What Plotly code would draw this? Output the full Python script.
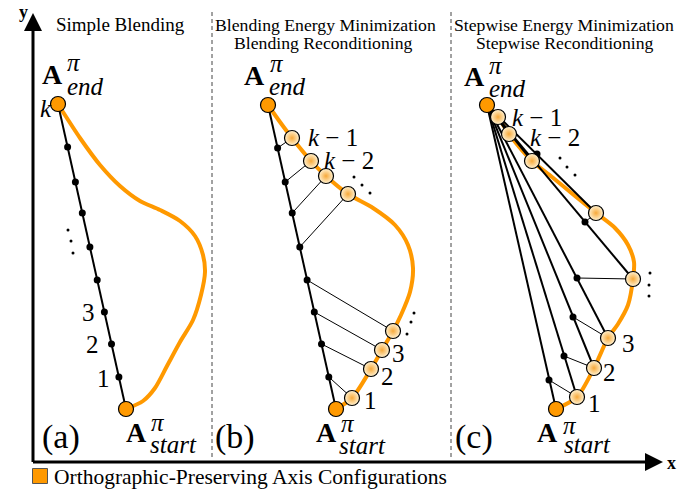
import plotly.graph_objects as go

# ---------------- data (diagram coordinates, pixel space) ----------------
ORANGE = '#FF9900'
LIGHT = '#FFF2D2'
SERIF = '"Liberation Serif", "Times New Roman", Times, "DejaVu Serif", serif'

# panel (a) Simple Blending
a_end = (58, 104)
a_start = (126, 409)
a_dots_x = [67.6, 75.4, 82.3, 89.9, 97.2, 104.4, 111.5, 118.9]
a_dots_y = [147, 182, 213, 247, 280, 312, 344, 377]
a_curve_x = [58, 63, 80, 100, 120, 140, 160, 180, 195, 203, 205, 201, 193, 180, 167, 155, 143, 126]
a_curve_y = [104, 112, 138, 165, 186, 201, 210, 221, 236, 255, 272, 295, 320, 342, 366, 388, 401, 409]

# panel (b) Blending Energy Minimization
b_end = (268, 105)
b_start = (336, 409)
b_dots_x = [277.6, 285.2, 292.2, 299.8, 307.1, 314.3, 321.5, 328.8]
b_dots_y = [148, 182, 213, 247, 280, 312, 344, 377]
b_circ_x = [292, 311, 326, 348, 393, 382, 371, 352]
b_circ_y = [138, 161, 176, 194, 331, 350, 369, 398]
b_curve_x = [268, 280, 292, 311, 326, 348, 373, 395, 408, 413, 410, 401, 393, 382, 371, 352, 336]
b_curve_y = [105, 122, 138, 161, 176, 194, 208, 225, 245, 268, 292, 315, 331, 350, 369, 398, 409]

# panel (c) Stepwise Energy Minimization
c_end = (487, 105)
c_start = (556, 409)
c_circ_x = [498, 509, 532, 596, 633, 608, 594, 577]
c_circ_y = [117, 134, 161, 213, 279, 338, 368, 397]
c_dots_x = [549, 564, 573, 577, 585, 537]
c_dots_y = [380, 356, 317, 278, 222, 154]
c_link_x = [577, 594, 608, 633, 596, 532]
c_link_y = [397, 368, 338, 279, 213, 161]
c_curve_x = [487, 498, 509, 532, 552, 575, 596, 615, 628, 634, 633, 628, 618, 608, 594, 577, 556]
c_curve_y = [105, 117, 134, 161, 177, 196, 213, 228, 245, 262, 279, 305, 324, 338, 368, 397, 409]

# ellipsis dots
ell_x = [68, 71, 73, 354, 362, 370, 414, 411, 407, 560, 567, 575, 650, 649, 649]
ell_y = [230, 241, 253, 177, 185, 193, 313, 322, 334, 158, 167, 175, 273, 285, 296]

# frame
y_axis_x = 33
x_axis_y = 462
axis_top = 13
axis_right = 663
dash_x = [212, 451]

titles = [("Simple Blending", 120, 24, 19),
          ("Blending Energy Minimization", 325, 25, 17.7),
          ("Blending Reconditioning", 323, 43, 17.7),
          ("Stepwise Energy Minimization", 564, 25, 17.7),
          ("Stepwise Reconditioning", 565, 43, 17.7)]
panel_tags = [("(a)", 61, 437), ("(b)", 235, 437), ("(c)", 474, 437)]
end_labels = [(52, 74, 74, 62, 65, 86), (254, 75, 277, 63, 267, 86), (474, 76, 496, 65, 487, 88)]
start_labels = [(136, 432, 158, 422, 148, 444), (326, 432, 348, 423, 337, 445), (547, 432, 570, 425, 562, 444)]
num_labels = [("3", 88, 312), ("2", 92, 344), ("1", 103, 378),
              ("3", 398, 353), ("2", 387, 376), ("1", 370, 400),
              ("3", 628, 343), ("2", 609, 372), ("1", 594, 403)]
k_labels = [("k", 46, 108), ]
km_labels = [("1", 306, 137), ("2", 322, 160),
             ("1", 510, 117), ("2", 528, 137)]
legend_text = "Orthographic-Preserving Axis Configurations"

# ---------------- figure ----------------
fig = go.Figure()


def lines(xs, ys, width, color, dash=None, shape='linear'):
    fig.add_trace(go.Scatter(x=xs, y=ys, mode='lines',
                             line=dict(width=width, color=color, dash=dash, shape=shape, smoothing=0.8),
                             hoverinfo='skip', showlegend=False))


def markers(xs, ys, size, color, lw=1, lc='black', gradient=None, symbol='circle'):
    m = dict(size=size, color=color, line=dict(width=lw, color=lc), symbol=symbol)
    if gradient:
        m['gradient'] = dict(type='radial', color=gradient)
    fig.add_trace(go.Scatter(x=xs, y=ys, mode='markers', marker=m,
                             hoverinfo='skip', showlegend=False))


# dashed separators
for dx in dash_x:
    lines([dx, dx], [12, 460], 1, '#444', dash='4px,3px')

# orange curves
for cx, cy in [(a_curve_x, a_curve_y), (b_curve_x, b_curve_y), (c_curve_x, c_curve_y)]:
    lines(cx, cy, 4, ORANGE, shape='spline')

# panel a / b main black lines
lines([a_end[0], a_start[0]], [a_end[1], a_start[1]], 2, 'black')
lines([b_end[0], b_start[0]], [b_end[1], b_start[1]], 2, 'black')

# panel b connectors
for i in range(len(b_dots_x)):
    lines([b_dots_x[i], b_circ_x[i]], [b_dots_y[i], b_circ_y[i]], 1, 'black')

# panel c fan lines
fan_x = [c_start[0]] + c_circ_x
fan_y = [c_start[1]] + c_circ_y
for i in range(len(fan_x)):
    lines([c_end[0], fan_x[i]], [c_end[1], fan_y[i]], 2, 'black')
for i in range(len(c_dots_x)):
    lines([c_dots_x[i], c_link_x[i]], [c_dots_y[i], c_link_y[i]], 1, 'black')

# black dots
markers(a_dots_x, a_dots_y, 7, 'black', lw=0)
markers(b_dots_x, b_dots_y, 7, 'black', lw=0)
markers(c_dots_x, c_dots_y, 7, 'black', lw=0)
markers(ell_x, ell_y, 3, 'black', lw=0)

# light circles
markers(b_circ_x, b_circ_y, 15, LIGHT, lw=1.2, gradient='#F7A93A')
markers(c_circ_x, c_circ_y, 15, LIGHT, lw=1.2, gradient='#F7A93A')

# end/start nodes
markers([a_end[0], a_start[0], b_end[0], b_start[0], c_end[0], c_start[0]],
        [a_end[1], a_start[1], b_end[1], b_start[1], c_end[1], c_start[1]], 15, ORANGE, lw=1.2)

# legend square
markers([40], [476], 15, ORANGE, lw=1, lc='#555', symbol='square')

ann = []


def txt(t, x, y, size, anchor='center', italic=False, bold=False):
    s = t
    if bold:
        s = '<b>' + s + '</b>'
    if italic:
        s = '<i>' + s + '</i>'
    ann.append(dict(x=x, y=y, xref='x', yref='y', text=s, showarrow=False,
                    xanchor=anchor, yanchor='middle',
                    font=dict(family=SERIF, size=size, color='black')))


for t, x, y, s in titles:
    txt(t, x, y, s)
for t, x, y in panel_tags:
    txt(t, x, y, 34)
for ax_, ay_, px, py, sx, sy in end_labels:
    txt('A', ax_, ay_, 28, bold=True)
    txt('\u03c0', px, py, 25, italic=True)
    txt('end', sx, sy, 25, anchor='left', italic=True)
for ax_, ay_, px, py, sx, sy in start_labels:
    txt('A', ax_, ay_, 28, bold=True)
    txt('\u03c0', px, py, 25, italic=True)
    txt('start', sx, sy, 25, anchor='left', italic=True)
for t, x, y in num_labels:
    txt(t, x, y, 25)
for t, x, y in k_labels:
    txt(t, x, y, 25, italic=True)
for t, x, y in km_labels:
    ann.append(dict(x=x, y=y, xref='x', yref='y', text='<i>k</i> \u2212 ' + t, showarrow=False,
                    xanchor='left', yanchor='middle', font=dict(family=SERIF, size=25, color='black')))
txt(legend_text, 52, 477, 21.5, anchor='left')
txt('y', 23, 12, 18, bold=True)
txt('x', 671, 463, 18, bold=True)

# axis arrows
ann.append(dict(x=y_axis_x, y=axis_top, ax=y_axis_x, ay=x_axis_y + 1.5, xref='x', yref='y', axref='x', ayref='y',
                text='', showarrow=True, arrowhead=2, arrowsize=1.2, arrowwidth=3, arrowcolor='black'))
ann.append(dict(x=axis_right, y=x_axis_y, ax=y_axis_x - 1.5, ay=x_axis_y, xref='x', yref='y', axref='x', ayref='y',
                text='', showarrow=True, arrowhead=2, arrowsize=1.2, arrowwidth=3, arrowcolor='black'))

fig.update_layout(width=700, height=491, margin=dict(l=0, r=0, t=0, b=0),
                  paper_bgcolor='white', plot_bgcolor='white', annotations=ann,
                  xaxis=dict(range=[0, 700], visible=False, fixedrange=True),
                  yaxis=dict(range=[491, 0], visible=False, fixedrange=True))
fig.write_html("out.html")
